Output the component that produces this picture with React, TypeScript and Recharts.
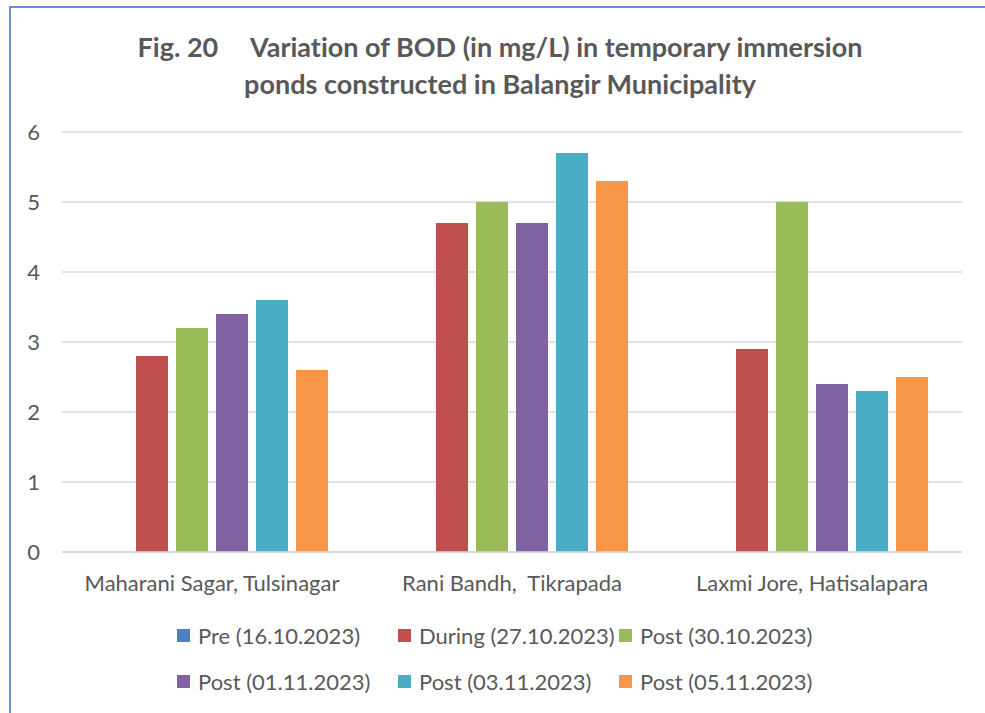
import React from "react"
import { BarChart, Bar, XAxis, YAxis, CartesianGrid } from "recharts"

const ponds = ["Maharani Sagar, Tulsinagar", "Rani Bandh,\u00A0 Tikrapada", "Laxmi Jore, Hatisalapara"]
const pre = [0, 0, 0]
const during = [2.8, 4.7, 2.9]
const post3010 = [3.2, 5.0, 5.0]
const post0111 = [3.4, 4.7, 2.4]
const post0311 = [3.6, 5.7, 2.3]
const post0511 = [2.6, 5.3, 2.5]
const yTicks = [0, 1, 2, 3, 4, 5, 6]

const series = [
  { key: "pre", name: "Pre (16.10.2023)", color: "#4F81BD" },
  { key: "during", name: "During (27.10.2023)", color: "#C0504D" },
  { key: "p1", name: "Post (30.10.2023)", color: "#9BBB59" },
  { key: "p2", name: "Post (01.11.2023)", color: "#8064A2" },
  { key: "p3", name: "Post (03.11.2023)", color: "#4BACC6" },
  { key: "p4", name: "Post (05.11.2023)", color: "#F79646" },
]

const data = ponds.map((name, i) => ({
  name,
  pre: pre[i],
  during: during[i],
  p1: post3010[i],
  p2: post0111[i],
  p3: post0311[i],
  p4: post0511[i],
}))

const FONT = "Lato, 'Open Sans', sans-serif"
const TEXT = "#595959"

// legend drawn outside the svg so it doesn't eat into the plot area
function ChartLegend() {
  return (
    <div
      style={{
        position: "absolute",
        left: 177,
        top: 624,
        display: "grid",
        gridTemplateColumns: "221px 221px 221px",
        rowGap: 24,
      }}
    >
      {series.map(s => (
        <div key={s.key} style={{ display: "flex", alignItems: "center", height: 22 }}>
          <span style={{ width: 13, height: 13, background: s.color, marginRight: 8, display: "inline-block" }} />
          <span style={{ fontFamily: FONT, fontSize: 22, color: TEXT, whiteSpace: "nowrap" }}>{s.name}</span>
        </div>
      ))}
    </div>
  )
}

export default function App() {
  return (
    <div style={{ position: "absolute", left: 0, top: 0, width: 985, height: 713, background: "#fff", overflow: "hidden" }}>
      <div
        style={{
          position: "absolute",
          left: 9,
          top: 6,
          width: 1000,
          height: 720,
          borderLeft: "2px solid #6393d4",
          borderTop: "2px solid #6393d4",
        }}
      />
      <div
        style={{
          position: "absolute",
          left: 0,
          top: 28,
          width: 1000,
          textAlign: "center",
          fontFamily: FONT,
          fontWeight: 700,
          fontSize: 27,
          lineHeight: "37px",
          color: TEXT,
          fontVariantLigatures: "none",
        }}
      >
        <div style={{ whiteSpace: "pre" }}>{"Fig. 20     Variation of BOD (in mg/L) in temporary immersion"}</div>
        <div>ponds constructed in Balangir Municipality</div>
      </div>
      <BarChart
        width={985}
        height={713}
        data={data}
        margin={{ top: 132, right: 23, left: 0, bottom: 131 }}
        barSize={32}
        barGap={8}
        barCategoryGap={34}
        style={{ position: "absolute", left: 0, top: 0 }}
      >
        <CartesianGrid vertical={false} stroke="#d9d9d9" strokeWidth={1.5} />
        <XAxis
          dataKey="name"
          height={30}
          tickLine={false}
          tickSize={0}
          tickMargin={23}
          axisLine={{ stroke: "#d9d9d9", strokeWidth: 1.5 }}
          tick={{ fontFamily: FONT, fontSize: 22, fill: TEXT }}
          interval={0}
        />
        <YAxis
          width={62}
          domain={[0, 6]}
          ticks={yTicks}
          tickLine={false}
          axisLine={false}
          tickSize={0}
          tickMargin={22}
          tick={{ fontFamily: FONT, fontSize: 22, fill: TEXT }}
        />
        {series.map(s => (
          <Bar key={s.key} dataKey={s.key} name={s.name} fill={s.color} isAnimationActive={false} />
        ))}
      </BarChart>
      <ChartLegend />
    </div>
  )
}
